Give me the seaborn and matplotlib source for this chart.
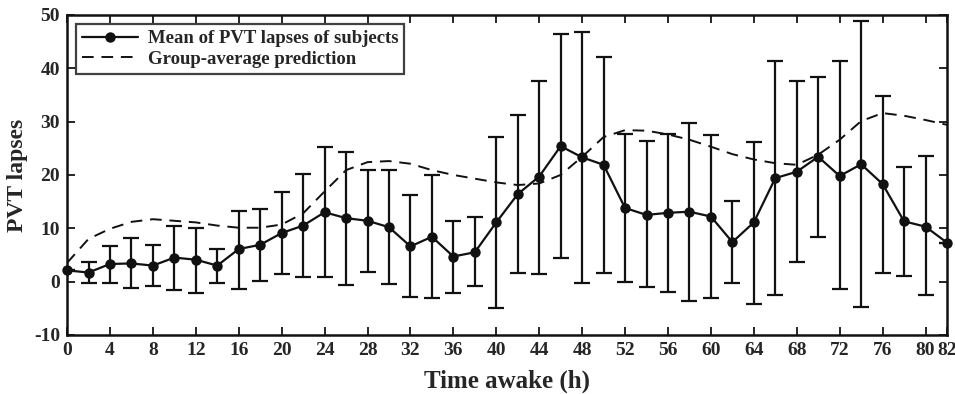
import numpy as np
import pandas as pd
import seaborn as sns
import matplotlib.pyplot as plt

# time awake (h)
hours = list(range(0, 84, 2))

# mean PVT lapses of subjects
mean_lapses = [2.1, 1.7, 3.3, 3.4, 3.0, 4.5, 4.1, 3.0, 6.1, 6.9,
               9.1, 10.5, 13.0, 11.9, 11.4, 10.2, 6.6, 8.4, 4.7, 5.5,
               11.1, 16.4, 19.7, 25.4, 23.3, 21.9, 13.8, 12.5, 12.9, 13.1,
               12.2, 7.4, 11.1, 19.4, 20.6, 23.4, 19.8, 22.0, 18.3, 11.3,
               10.3, 7.3]

# error bar ends (upper / lower)
err_upper = [2.1, 3.6, 6.6, 8.1, 6.9, 10.4, 10.1, 6.1, 13.3, 13.6,
             16.8, 20.2, 25.3, 24.3, 20.9, 20.9, 16.3, 19.9, 11.4, 12.1,
             27.1, 31.3, 37.7, 46.4, 46.8, 42.1, 27.6, 26.3, 27.6, 29.7,
             27.5, 15.2, 26.1, 41.4, 37.7, 38.4, 41.3, 48.8, 34.8, 21.4,
             23.6, 7.3]
err_lower = [2.1, -0.3, -0.2, -1.2, -0.8, -1.6, -2.2, -0.2, -1.4, 0.2,
             1.4, 0.8, 0.8, -0.6, 1.8, -0.5, -2.8, -3.0, -2.1, -0.8,
             -5.0, 1.6, 1.4, 4.5, -0.2, 1.7, 0.0, -1.0, -1.9, -3.6,
             -3.0, -0.3, -4.2, -2.5, 3.6, 8.3, -1.4, -4.8, 1.6, 1.1,
             -2.6, 7.3]

# group-average model prediction
prediction = [3.5, 8.0, 9.9, 11.2, 11.7, 11.4, 11.1, 10.5, 10.1, 10.1,
              10.7, 12.8, 16.9, 20.9, 22.4, 22.6, 22.1, 20.9, 20.0, 19.3,
              18.6, 18.1, 18.4, 20.0, 23.4, 27.1, 28.4, 28.3, 27.6, 26.6,
              25.3, 23.9, 22.9, 22.2, 21.9, 23.8, 26.6, 30.1, 31.6, 31.1,
              30.3, 29.4]

x_ticks = [0, 4, 8, 12, 16, 20, 24, 28, 32, 36, 40, 44, 48, 52, 56, 60, 64,
           68, 72, 76, 80, 82]
y_ticks = [-10, 0, 10, 20, 30, 40, 50]

df = pd.DataFrame({'hours': hours, 'mean': mean_lapses,
                   'upper': err_upper, 'lower': err_lower,
                   'pred': prediction})

sns.set_style('ticks')
plt.rcParams['font.family'] = ['Liberation Serif', 'DejaVu Serif']
plt.rcParams['font.weight'] = 'bold'
plt.rcParams['axes.unicode_minus'] = False

fig = plt.figure(figsize=(9.55, 3.94), dpi=100)
ax = fig.add_axes([0.0702, 0.150, 0.9214, 0.812])

yerr = np.array([df['mean'] - df['lower'], df['upper'] - df['mean']])
ax.errorbar(df['hours'], df['mean'], yerr=yerr, fmt='none', ecolor='#111111',
            elinewidth=1.6, capsize=6, capthick=1.6, zorder=2)

sns.lineplot(data=df, x='hours', y='mean', ax=ax, color='#111111',
             linewidth=1.6, marker='o', markersize=7.5, markeredgewidth=0,
             label='Mean of PVT lapses of subjects', zorder=3, clip_on=False)
sns.lineplot(data=df, x='hours', y='pred', ax=ax, color='#111111',
             linewidth=1.4, dashes=False, linestyle=(0, (6, 4)),
             label='Group-average prediction', zorder=2)

ax.set_xlim(0, 82)
ax.set_ylim(-10, 50)
ax.set_xticks(x_ticks)
ax.set_yticks(y_ticks)
ax.tick_params(direction='in', length=6, width=1.4, top=True, right=True,
               labelsize=14, pad=5)
for lbl in ax.get_xticklabels() + ax.get_yticklabels():
    lbl.set_fontweight('bold')
for sp in ax.spines.values():
    sp.set_linewidth(1.8)
    sp.set_color('#111111')

ax.set_xlabel('Time awake (h)', fontsize=18, fontweight='bold', labelpad=8)
ax.set_ylabel('PVT lapses', fontsize=17, fontweight='bold', labelpad=4)

leg = ax.legend(loc='upper left', fontsize=13.5, frameon=True, fancybox=False,
                borderpad=0.3, handlelength=3.0, handletextpad=0.5,
                labelspacing=0.2, borderaxespad=0.5)
leg.get_frame().set_edgecolor('#111111')
leg.get_frame().set_linewidth(1.6)
for t in leg.get_texts():
    t.set_fontweight('bold')

fig.savefig('out.png', dpi=100)
